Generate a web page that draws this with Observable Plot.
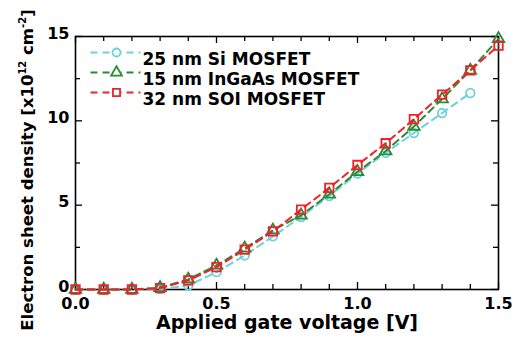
<!DOCTYPE html>
<html><head><meta charset="utf-8">
<script src="https://cdn.jsdelivr.net/npm/d3@7"></script>
<script src="https://cdn.jsdelivr.net/npm/@observablehq/plot@0.6"></script>
<style>body{margin:0;background:#fff}</style>
</head><body><div id="chart"></div>
<script>
const voltage = [0, 0.1, 0.2, 0.3, 0.4, 0.5, 0.6, 0.7, 0.8, 0.9, 1.0, 1.1, 1.2, 1.3, 1.4, 1.5];
const si25 = [0, 0, 0, 0.02, 0.24, 1.03, 2.02, 3.15, 4.3, 5.54, 6.88, 8.1, 9.28, 10.46, 11.65];
const ingaas15 = [0, 0, 0, 0.1, 0.6, 1.43, 2.44, 3.51, 4.4, 5.65, 6.98, 8.21, 9.66, 11.29, 12.99, 14.86];
const soi32 = [0, 0, 0, 0.08, 0.54, 1.33, 2.36, 3.45, 4.74, 6.03, 7.38, 8.67, 10.1, 11.55, 12.99, 14.46];
const seriesNames = ["25 nm Si MOSFET", "15 nm InGaAs MOSFET", "32 nm SOI MOSFET"];
const seriesValues = [si25, ingaas15, soi32];
const seriesColors = ["#6fd0df", "#2b8a36", "#ee2229"];
const seriesSymbols = ["circle", "triangle", "square"];
const xLabelTicks = [0, 0.5, 1.0, 1.5];
const xMinorTicks = [0.1, 0.2, 0.3, 0.4, 0.6, 0.7, 0.8, 0.9, 1.1, 1.2, 1.3, 1.4];
const yLabelTicks = [0, 5, 10, 15];
const yMinorTicks = [2.5, 7.5, 12.5];
const xTitle = "Applied gate voltage [V]";

const W = 516, H = 339, mL = 75, mR = 18, mT = 36, mB = 50;
const PH = H - mT - mB, PW = W - mL - mR;
const majorLen = 7, minorLen = 5;

const rows = seriesValues.map((vals, i) => vals.map((v, j) => ({x: voltage[j], y: v, s: i})));

const lineSeg = {draw(ctx) { ctx.moveTo(-25, 0); ctx.lineTo(25, 0); }};
const dash = "7,5";
const marks = [];
for (const [arr, len] of [[xLabelTicks, majorLen], [xMinorTicks, minorLen]]) {
  marks.push(Plot.tickX(arr, {x: d => d, insetTop: PH - len, stroke: "black", strokeWidth: 1.3}));
  marks.push(Plot.tickX(arr, {x: d => d, insetBottom: PH - len, stroke: "black", strokeWidth: 1.3}));
}
for (const [arr, len] of [[yLabelTicks, majorLen], [yMinorTicks, minorLen]]) {
  marks.push(Plot.tickY(arr, {y: d => d, insetRight: PW - len, stroke: "black", strokeWidth: 1.3}));
  marks.push(Plot.tickY(arr, {y: d => d, insetLeft: PW - len, stroke: "black", strokeWidth: 1.3}));
}
marks.push(Plot.frame({stroke: "black", strokeWidth: 1.6}));
marks.push(Plot.axisX(xLabelTicks, {tickSize: 0, tickPadding: 8.5, tickFormat: d => d.toFixed(1), label: null, fontSize: 16, fontWeight: "bold"}));
marks.push(Plot.axisY(yLabelTicks, {tickSize: 0, tickPadding: 6, dy: -3, label: null, fontSize: 16, fontWeight: "bold"}));
marks.push(Plot.text([xTitle], {text: d => d, frameAnchor: "bottom", dy: 39.5, fontSize: 19, fontWeight: "bold"}));

rows.forEach((r, i) => {
  marks.push(Plot.line(r, {x: "x", y: "y", stroke: seriesColors[i], strokeWidth: 2, strokeDasharray: dash}));
  marks.push(Plot.dot(r, {x: "x", y: "y", symbol: seriesSymbols[i], r: i === 1 ? 4.3 : (i === 2 ? 4.8 : 4.3), stroke: seriesColors[i], strokeWidth: 1.8, fill: "none"}));
});
seriesNames.forEach((name, i) => {
  const dy = 16 + i * 20;
  marks.push(Plot.dot([name], {frameAnchor: "top-left", dx: 40, dy, symbol: lineSeg, r: 1, stroke: seriesColors[i], strokeWidth: 2, strokeDasharray: dash, fill: "none"}));
  marks.push(Plot.dot([name], {frameAnchor: "top-left", dx: 41, dy, symbol: seriesSymbols[i], r: 4, stroke: seriesColors[i], strokeWidth: 1.8, fill: "white"}));
  marks.push(Plot.text([name], {text: d => d, frameAnchor: "top-left", dx: 67, dy, textAnchor: "start", fontSize: 17, fontWeight: "bold", fill: "black"}));
});

const chart = Plot.plot({
  width: W, height: H,
  marginLeft: mL, marginRight: mR, marginTop: mT, marginBottom: mB,
  style: {fontFamily: "DejaVu Sans", fontWeight: "bold", color: "black", background: "white"},
  x: {domain: [0, 1.5]},
  y: {domain: [0, 15]},
  marks
});
document.getElementById("chart").appendChild(chart);

const t = d3.select(chart).append("text")
  .attr("transform", "translate(33,170) rotate(-90)")
  .attr("text-anchor", "middle")
  .attr("font-family", "DejaVu Sans")
  .attr("font-weight", "bold")
  .attr("font-size", 16.5)
  .attr("fill", "black");
t.append("tspan").text("Electron sheet density [x10");
t.append("tspan").attr("font-size", 10).attr("dy", -7).text("12");
t.append("tspan").attr("dy", 7).text(" cm");
t.append("tspan").attr("font-size", 10).attr("dy", -7).text("-2");
t.append("tspan").attr("dy", 7).text("]");
</script></body></html>
